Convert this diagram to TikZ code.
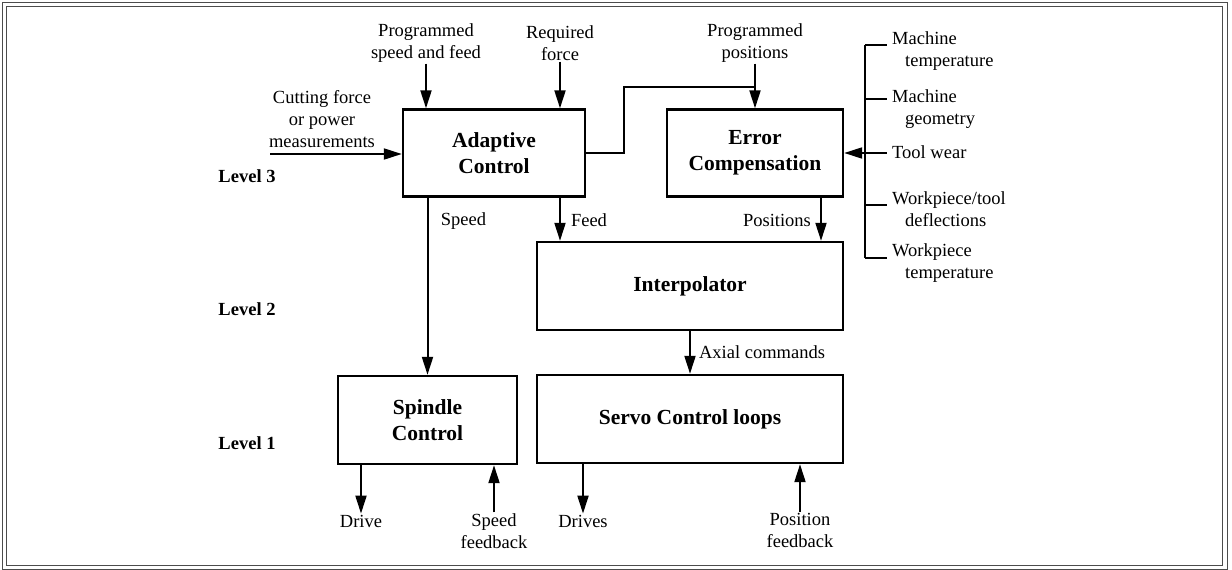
\documentclass[tikz,border=0pt]{standalone}
\usepackage{fontspec}
\setmainfont{Liberation Serif}
\usetikzlibrary{arrows.meta,positioning,calc}

\begin{document}
\begin{tikzpicture}[x=1pt, y=-1pt]
            \tikzstyle{blk}=[draw, line width=2.4pt, align=center, inner sep=0pt,
                font=\bfseries\fontsize{21.5}{26}\selectfont]
            \tikzstyle{lbl}=[align=center, inner sep=1pt, font=\fontsize{18.5}{22}\selectfont]
            \tikzstyle{lvl}=[inner sep=0pt, font=\bfseries\fontsize{18.5}{22}\selectfont]
            \tikzstyle{arr}=[line width=2pt, -{Triangle[length=18pt,width=11pt]}]
            \tikzstyle{ln}=[line width=2pt]
            \useasboundingbox (0,0) rectangle (1232,570);
            % frame
            \draw[gray!60!black, line width=0.8pt] (2,2) rectangle (1227,569);
            \draw[gray!60!black, line width=0.8pt] (6,6) rectangle (1222,565);
            % blocks
            \node[blk, minimum width=182pt, minimum height=87pt] (ac) at (494,153) {Adaptive\\Control};
            \node[blk, minimum width=176pt, minimum height=87pt] (ec) at (755,153) {Error\\Compensation};
            \node[blk, minimum width=306pt, minimum height=88pt] (ip) at (690,286) {Interpolator};
            \node[blk, minimum width=179pt, minimum height=88pt] (sc) at (427.5,420) {Spindle\\Control};
            \node[blk, minimum width=306pt, minimum height=88pt] (sv) at (690,419) {Servo Control loops};
            % levels
            \node[lvl] (l3) at (247,176) {Level 3};
            \node[lvl] (l2) at (247,309) {Level 2};
            \node[lvl] (l1) at (247,443) {Level 1};
            % inputs at the top
            \node[lbl] (psf) at (426,43) {Programmed\\speed and feed};
            \node[lbl] (rf) at (560,43) {Required\\force};
            \node[lbl] (pp) at (755,43) {Programmed\\positions};
            \node[lbl] (cf) at (322,119) {Cutting force\\or power\\measurements};
            \coordinate (cfin) at (270,154);
            \draw[arr] (psf.south) -- (psf.south |- ac.north);
            \draw[arr] (rf.south) -- (rf.south |- ac.north);
            \draw[arr] (pp.south) -- (ec.north);
            \draw[arr] (cfin) -- (cfin -| ac.west);
            % adaptive control to error compensation
            \coordinate (bend) at (624,87);
            \draw[ln] (ac.east) -- (ac.east -| bend) -- (bend) -- (bend -| pp.south);
            % level 3 to level 2 and 1
            \node[lbl] (spd) at (463.5,221) {Speed};
            \node[lbl] (fd) at (589,220) {Feed};
            \node[lbl] (pos) at (777,220) {Positions};
            \node[lbl] (axc) at (762,352) {Axial commands};
            \draw[arr] (sc.north |- ac.south) -- (sc.north);
            \draw[arr] (rf.south |- ac.south) -- (rf.south |- ip.north);
            \draw[arr] ([xshift=66pt]ec.south) -- ([xshift=131pt]ip.north);
            \draw[arr] (ip.south) -- (sv.north);
            % error sources
            \node[lbl, anchor=west, align=left] (mt) at (891,51) {Machine\\\hspace*{0.7em}temperature};
            \node[lbl, anchor=west, align=left] (mg) at (891,109) {Machine\\\hspace*{0.7em}geometry};
            \node[lbl, anchor=west, align=left] (tw) at (891,152) {Tool wear};
            \node[lbl, anchor=west, align=left] (wd) at (891,209) {Workpiece/tool\\\hspace*{0.7em}deflections};
            \node[lbl, anchor=west, align=left] (wt) at (891,263) {Workpiece\\\hspace*{0.7em}temperature};
            \coordinate (b1) at (865,45);
            \coordinate (b2) at (865,99);
            \coordinate (b3) at (865,153);
            \coordinate (b4) at (865,205);
            \coordinate (b5) at (865,258);
            \draw[ln] (b1) -- (b5);
            \foreach \b in {b1,b2,b3,b4,b5}
                \draw[ln] (\b) -- ++(22,0);
            \draw[arr] (b3) -- (b3 -| ec.east);
            % outputs and feedback
            \node[lbl] (drv) at (361,521) {Drive};
            \node[lbl] (sfb) at (494,531) {Speed\\feedback};
            \node[lbl] (drvs) at (583,521) {Drives};
            \node[lbl] (pfb) at (800,530) {Position\\feedback};
            \draw[arr] (drv.north |- sc.south) -- (drv.north);
            \draw[arr] (sfb.north) -- (sfb.north |- sc.south);
            \draw[arr] (drvs.north |- sv.south) -- (drvs.north);
            \draw[arr] (pfb.north) -- (pfb.north |- sv.south);
        \end{tikzpicture}
\end{document}
